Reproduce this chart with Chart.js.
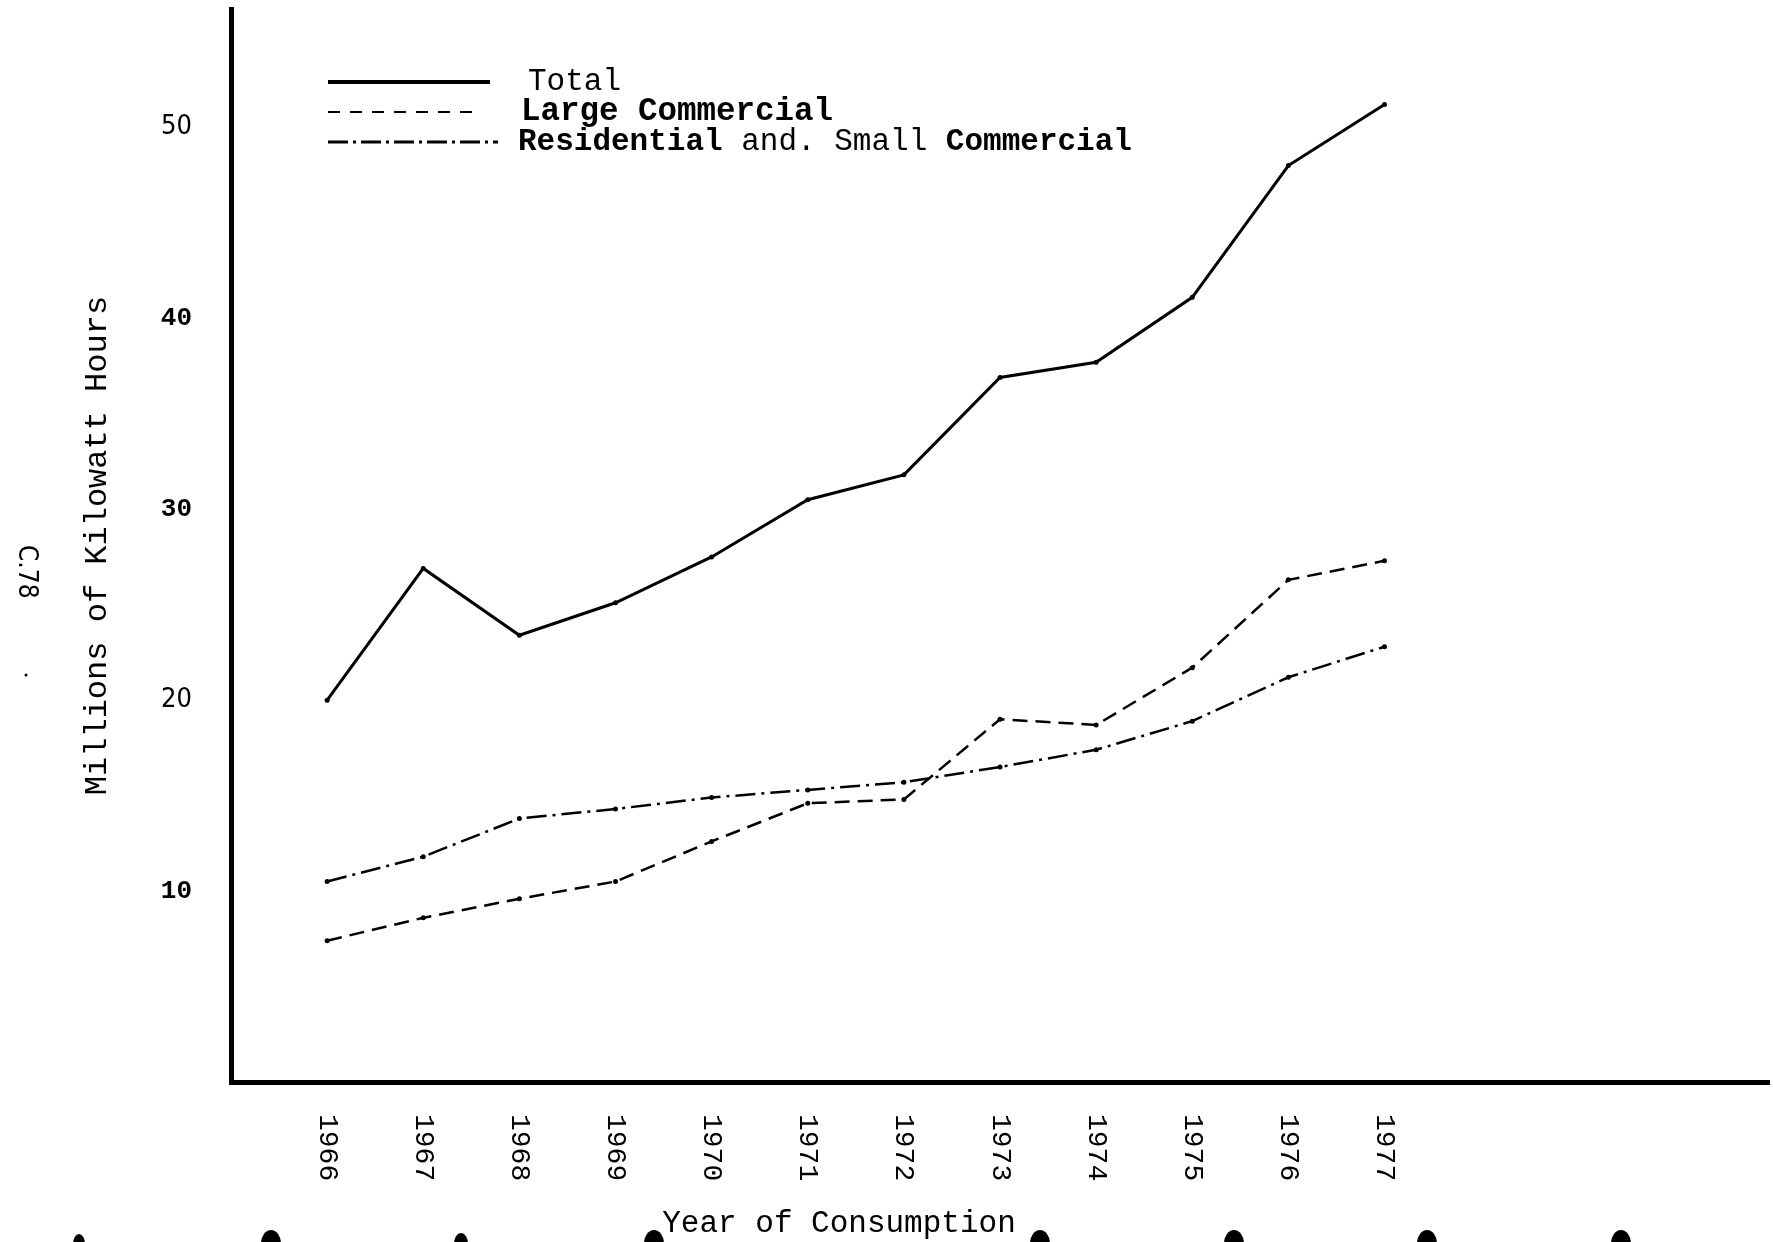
<!doctype html>
<html>
	<head>
		<meta charset="utf-8" />
		<title>Electricity consumption 1966-1977</title>
		<script src="https://cdn.jsdelivr.net/npm/chart.js@4/dist/chart.umd.min.js"></script>
		<style>
			html,
			body {
				margin: 0;
				padding: 0;
				background: #fff;
			}

			canvas {
				display: block;
			}
		</style>
	</head>

	<body>
		<canvas id="chartJSContainer" width="1773" height="1242"></canvas>

		<script>
			// values (millions of kWh)
			const years = [1966, 1967, 1968, 1969, 1970, 1971, 1972, 1973, 1974, 1975, 1976, 1977];
			const total = [20.0, 26.9, 23.4, 25.1, 27.5, 30.5, 31.8, 36.9, 37.7, 41.1, 48.0, 51.2];
			const largeCommercial = [7.4, 8.6, 9.6, 10.5, 12.6, 14.6, 14.8, 19.0, 18.7, 21.7, 26.3, 27.3];
			const residentialSmall = [10.5, 11.8, 13.8, 14.3, 14.9, 15.3, 15.7, 16.5, 17.4, 18.9, 21.2, 22.8];
			const yTickValues = [10, 20, 30, 40, 50];

			const mono = '"Liberation Mono", "Courier New", monospace';
			const sans = '"DejaVu Sans Condensed", "Liberation Sans", sans-serif';

			const toPoints = (arr) => years.map((yr, i) => ({ x: yr, y: arr[i] }));

			// legend entries: sample line style + text pieces (bold or not)
			const legendRows = [
				{ dash: [], width: 4, len: 162, size: 31, parts: [["Total", false]], tx: 528, y: 82 },
				{ dash: [12, 10], width: 2, len: 144, size: 32.5, parts: [["Large Commercial", true]], tx: 521, y: 112 },
				{
					dash: [20, 5, 3, 5],
					width: 3,
					len: 170,
					size: 31,
					parts: [["Residential", true], [" and. Small ", false], ["Commercial", true]],
					tx: 518,
					y: 142,
				},
			];

			const overlay = {
				id: "overlay",
				afterDraw(chart) {
					const { ctx, scales } = chart;
					const xs = scales.x;
					ctx.save();
					ctx.fillStyle = "#000";
					ctx.strokeStyle = "#000";

					// year labels, rotated to read downward
					ctx.font = "28px " + mono;
					ctx.textAlign = "left";
					ctx.textBaseline = "middle";
					years.forEach((yr) => {
						ctx.save();
						ctx.translate(xs.getPixelForValue(yr), 1114);
						ctx.rotate(Math.PI / 2);
						ctx.fillText(String(yr), 0, 0);
						ctx.restore();
					});

					// x axis title (off-centre in the original)
					ctx.font = "31px " + mono;
					ctx.textAlign = "center";
					ctx.fillText("Year of Consumption", 839, 1224);

					// page number on the left margin
					ctx.font = "26px " + sans;
					ctx.textAlign = "left";
					ctx.save();
					ctx.translate(26, 545);
					ctx.rotate(Math.PI / 2);
					ctx.fillText("C.78", 0, 0);
					ctx.restore();
					ctx.beginPath();
					ctx.arc(26, 675, 1.5, 0, Math.PI * 2);
					ctx.fill();

					// legend
					legendRows.forEach((row) => {
						ctx.setLineDash(row.dash);
						ctx.lineWidth = row.width;
						ctx.beginPath();
						ctx.moveTo(328, row.y);
						ctx.lineTo(328 + row.len, row.y);
						ctx.stroke();
						ctx.setLineDash([]);
						let cx = row.tx;
						row.parts.forEach(([txt, bold]) => {
							ctx.font = (bold ? "bold " : "") + row.size + "px " + mono;
							ctx.fillText(txt, cx, row.y);
							cx += ctx.measureText(txt).width;
						});
					});

					// binder hole marks along the bottom edge
					[[79, 6], [271, 10], [461, 7], [654, 10], [1040, 10], [1234, 10], [1427, 10], [1621, 10]].forEach(
						([bx, r]) => {
							ctx.beginPath();
							ctx.ellipse(bx, 1244, r, r + 4, 0, 0, Math.PI * 2);
							ctx.fill();
						},
					);
					ctx.restore();
				},
			};

			const lineBase = {
				borderColor: "#000",
				backgroundColor: "#000",
				pointRadius: 2.5,
				pointBackgroundColor: "#000",
				pointBorderWidth: 0,
				tension: 0,
				fill: false,
			};

			const configuration = {
				type: "line",
				data: {
					datasets: [
						{ ...lineBase, label: "Total", data: toPoints(total), borderWidth: 3 },
						{
							...lineBase,
							label: "Large Commercial",
							data: toPoints(largeCommercial),
							borderWidth: 2.5,
							borderDash: [15, 8],
						},
						{
							...lineBase,
							label: "Residential and. Small Commercial",
							data: toPoints(residentialSmall),
							borderWidth: 2.5,
							borderDash: [20, 6, 3, 6],
						},
					],
				},
				options: {
					responsive: false,
					animation: false,
					layout: { padding: { top: 9, left: 0, right: 0, bottom: 0 } },
					plugins: {
						legend: { display: false },
						tooltip: { enabled: false },
					},
					scales: {
						x: {
							type: "linear",
							min: 1965,
							max: 1981,
							grid: { display: false, drawTicks: false },
							border: { display: true, color: "#000", width: 5 },
							ticks: { display: false },
							afterFit: (scale) => {
								scale.height = 160;
								scale.paddingLeft = 0;
								scale.paddingRight = 0;
							},
						},
						y: {
							type: "linear",
							min: 0,
							max: 56.2,
							grid: { display: false, drawTicks: false },
							border: { display: true, color: "#000", width: 5 },
							afterBuildTicks: (scale) => {
								scale.ticks = yTickValues.map((v) => ({ value: v }));
							},
							afterFit: (scale) => {
								scale.width = 231;
								scale.paddingTop = 0;
								scale.paddingBottom = 0;
							},
							ticks: {
								padding: 39,
								color: "#000",
								font: (ctx) => {
									const v = ctx.tick ? ctx.tick.value : 0;
									return v === 50 || v === 20
										? { family: sans, size: 27, weight: "normal" }
										: { family: mono, size: 26, weight: "bold" };
								},
							},
							title: {
								display: true,
								text: "Millions of Kilowatt Hours",
								color: "#000",
								font: { family: mono, size: 32 },
								padding: { top: 78, bottom: 0 },
							},
						},
					},
				},
				plugins: [overlay],
			};

			const ctx = document.getElementById("chartJSContainer").getContext("2d");
			window.testedChart = new Chart(ctx, configuration);
		</script>
	</body>
</html>
